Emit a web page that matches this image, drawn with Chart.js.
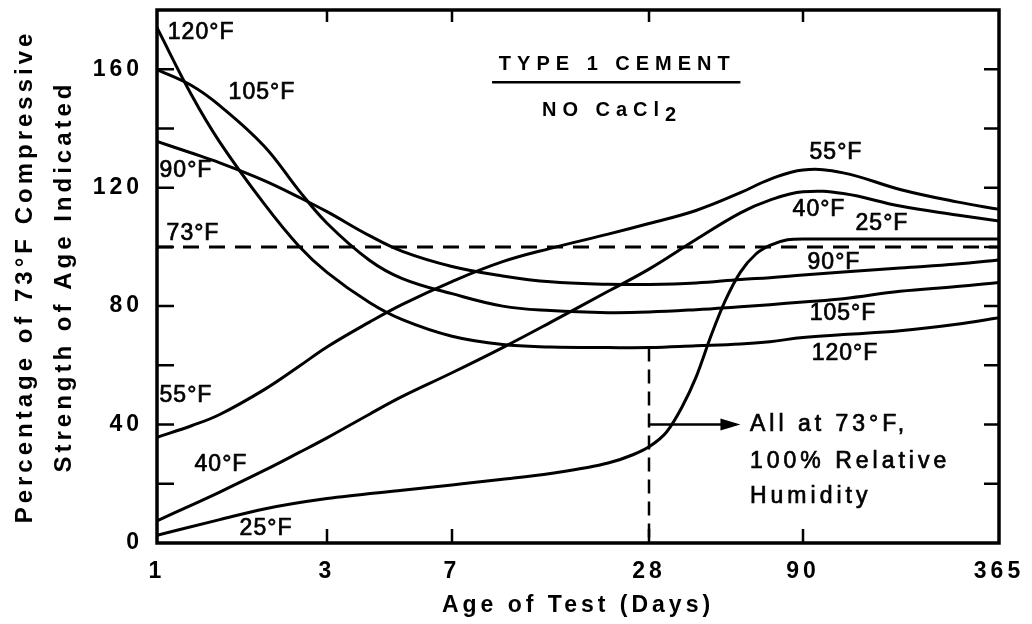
<!DOCTYPE html>
<html>
<head>
<meta charset="utf-8">
<script src="https://cdn.jsdelivr.net/npm/chart.js@4"></script>
<style>
html, body { margin: 0; padding: 0; background: #fff; }
canvas { display: block; }
</style>
</head>
<body>
<canvas id="c" width="1032" height="624"></canvas>
<script>
// ---------- data ----------
const tickDays = [1, 3, 7, 28, 90, 365];
const tickLabels = ['1', '3', '7', '28', '90', '365'];
const yTickValues = [0, 40, 80, 120, 160];

const days = [1, 1.25, 1.5, 2, 2.5, 3, 4, 5, 7, 10, 14, 21, 28, 40, 56, 70, 90, 120, 180, 270, 365];
const pct120F = [174, 151.3, 135.4, 114.5, 100.3, 91.4, 81.2, 75.4, 69.8, 67.0, 66.2, 66.0, 66.0, 66.6, 67.2, 68, 69.4, 70.4, 71.7, 73.9, 76.1];
const pct105F = [159.9, 154.5, 147.7, 134.0, 119.1, 108.0, 95.5, 89.3, 84.2, 80.0, 78.5, 77.8, 78.0, 78.8, 79.8, 80.5, 81.4, 82.5, 85, 86.6, 88];
const pct90F  = [135.6, 131.7, 128.4, 122.4, 116.8, 111.9, 103.8, 98.5, 93.4, 90.2, 88.2, 87.4, 87.3, 87.8, 89.0, 89.6, 90.5, 91.5, 92.9, 94.2, 95.6];
const pct55F  = [35.7, 39.6, 43.4, 51.8, 59.6, 66.2, 74.6, 80.6, 88.3, 95.0, 99.5, 104.3, 107.9, 112.3, 118.3, 122.8, 126.0, 125.0, 119.4, 115.2, 112.7];
const pct40F  = [7.5, 12.8, 17.2, 24.5, 30.5, 35.5, 43.5, 49.5, 57.5, 66, 74.5, 85, 92.5, 102.5, 111.5, 115.8, 118.6, 118.0, 113.8, 110.8, 108.7];
const days25F = [1, 1.5, 2, 3, 5, 7, 10, 14, 21, 25, 28, 32, 36, 40, 45, 50, 56, 63, 70, 80, 90, 180, 365];
const pct25F  = [2.6, 7.9, 11.5, 15, 17.8, 19.6, 21.5, 23.5, 27, 29.8, 32.5, 37.5, 46, 56, 70.5, 82, 91.5, 97.6, 100.5, 102.4, 102.7, 102.7, 102.7];

const ref73Days = [1, 365];
const ref73Pct = [100, 100];
const testDayLine = [28, 28];
const testDayPct = [66, 0];
const arrowDays = [28, 54];
const arrowPct = [40, 40];
const arrowTipDay = 56;

const curveLabels = [
  { text: '120°F', day: 1.33, pct: 172.5 },
  { text: '105°F', day: 1.97, pct: 152.2 },
  { text: '90°F',  day: 1.206, pct: 125.7 },
  { text: '73°F',  day: 1.262, pct: 104.4 },
  { text: '55°F',  day: 1.206, pct: 49.9 },
  { text: '40°F',  day: 1.512, pct: 26.3 },
  { text: '25°F',  day: 2.023, pct: 4.9 },
  { text: '55°F',  day: 113.9, pct: 131.8 },
  { text: '40°F',  day: 100.9, pct: 112.7 },
  { text: '25°F',  day: 158.2, pct: 108 },
  { text: '90°F',  day: 112.3, pct: 94.6 },
  { text: '105°F', day: 119.8, pct: 77.6 },
  { text: '120°F', day: 121.5, pct: 63.9 }
];
const noteLines = ['All at 73°F,', '100% Relative', 'Humidity'];
const noteDay = 60.2;
const notePct = [39.9, 27.4, 15.6];
const titleText = 'TYPE 1 CEMENT';
const subText = 'NO CaCl';
const subScript = '2';
const titleDay = 22.4, titlePct = 161.7, underlinePct = 155.6, underlineDays = [9.28, 56], subDay = 21.6, subPct = 146.1;

// ---------- axis geometry (piecewise-log day axis) ----------
const axisStops = [0, 170, 295, 492, 646, 842];
function dayToU(d) {
  for (let i = 0; i < tickDays.length - 1; i++) {
    if (d <= tickDays[i + 1] || i === tickDays.length - 2) {
      const f = Math.log(d / tickDays[i]) / Math.log(tickDays[i + 1] / tickDays[i]);
      return axisStops[i] + f * (axisStops[i + 1] - axisStops[i]);
    }
  }
}
const pts = (ds, vs) => ds.map((d, i) => ({ x: dayToU(d), y: vs[i] }));

const curve = (data, mono) => ({
  data, borderColor: '#000', borderWidth: 3, pointRadius: 0,
  cubicInterpolationMode: mono ? 'monotone' : 'default', tension: 0.4,
  fill: false, borderJoinStyle: 'round'
});

const FONT = 'Liberation Sans';

const decor = {
  id: 'decor',
  beforeDraw(chart) { chart.ctx.letterSpacing = '4px'; },
  afterDraw(chart) {
    const { ctx, chartArea: a, scales: { x, y } } = chart;
    const px = d => x.getPixelForValue(dayToU(d));
    const py = v => y.getPixelForValue(v);
    ctx.save();
    ctx.strokeStyle = '#000';
    ctx.fillStyle = '#000';
    // inward tick marks
    ctx.lineWidth = 2.5;
    ctx.beginPath();
    for (let v = 20; v < 180; v += 20) {
      const yy = py(v);
      ctx.moveTo(a.left, yy); ctx.lineTo(a.left + 17, yy);
      ctx.moveTo(a.right, yy); ctx.lineTo(a.right - 15, yy);
    }
    tickDays.slice(1, -1).forEach(d => {
      const xx = px(d);
      ctx.moveTo(xx, a.bottom); ctx.lineTo(xx, a.bottom - 14);
      ctx.moveTo(xx, a.top); ctx.lineTo(xx, a.top + 12);
    });
    ctx.stroke();
    // frame
    ctx.lineWidth = 3.5;
    ctx.strokeRect(a.left, a.top, a.right - a.left, a.bottom - a.top);

    // arrow head
    const tx = px(arrowTipDay), ty = py(arrowPct[1]);
    ctx.beginPath();
    ctx.moveTo(tx, ty); ctx.lineTo(tx - 20, ty - 6); ctx.lineTo(tx - 20, ty + 6); ctx.closePath();
    ctx.fill();

    // curve labels
    ctx.letterSpacing = '1px';
    ctx.font = `23px "${FONT}"`;
    ctx.textAlign = 'center';
    ctx.textBaseline = 'middle';
    ctx.lineWidth = 0.7;
    curveLabels.forEach(l => {
      ctx.fillText(l.text, px(l.day), py(l.pct));
      ctx.strokeText(l.text, px(l.day), py(l.pct));
    });

    // note text
    ctx.letterSpacing = '4px';
    ctx.font = `23px "${FONT}"`;
    ctx.textAlign = 'left';
    noteLines.forEach((t, i) => {
      ctx.fillText(t, px(noteDay), py(notePct[i]));
      ctx.strokeText(t, px(noteDay), py(notePct[i]));
    });

    // title
    ctx.letterSpacing = '6px';
    ctx.font = `bold 20px "${FONT}"`;
    ctx.textAlign = 'center';
    ctx.fillText(titleText, px(titleDay), py(titlePct));
    ctx.lineWidth = 2.5;
    ctx.beginPath();
    ctx.moveTo(px(underlineDays[0]), py(underlinePct));
    ctx.lineTo(px(underlineDays[1]), py(underlinePct));
    ctx.stroke();
    ctx.textAlign = 'left';
    const w1 = ctx.measureText(subText).width;
    const w2 = ctx.measureText(subScript).width;
    const x0 = px(subDay) - (w1 + w2) / 2;
    ctx.fillText(subText, x0, py(subPct));
    ctx.fillText(subScript, x0 + w1, py(subPct) + 5);
    ctx.restore();
  }
};

new Chart(document.getElementById('c'), {
  type: 'line',
  data: {
    datasets: [
      curve(pts(days, pct120F)),
      curve(pts(days, pct105F)),
      curve(pts(days, pct90F)),
      curve(pts(days, pct55F)),
      curve(pts(days, pct40F)),
      curve(pts(days25F, pct25F), true),
      { data: pts(ref73Days, ref73Pct), borderColor: '#000', borderWidth: 3, pointRadius: 0, borderDash: [16, 10] },
      { data: pts(testDayLine, testDayPct), borderColor: '#000', borderWidth: 2.5, pointRadius: 0, borderDash: [14, 8] },
      { data: pts(arrowDays, arrowPct), borderColor: '#000', borderWidth: 2.5, pointRadius: 0 }
    ]
  },
  options: {
    responsive: false,
    animation: false,
    devicePixelRatio: 1,
    layout: { padding: { top: 10, right: 33, left: 0, bottom: 0 } },
    plugins: { legend: { display: false }, tooltip: { enabled: false } },
    scales: {
      x: {
        type: 'linear', min: 0, max: axisStops[axisStops.length - 1],
        afterBuildTicks: s => { s.ticks = axisStops.map(v => ({ value: v })); },
        afterFit: s => { s.height = 81; s.paddingLeft = 0; s.paddingRight = 0; },
        grid: { display: false },
        border: { display: false },
        ticks: {
          autoSkip: false, maxRotation: 0, padding: 7, color: '#000',
          font: { family: FONT, size: 23, weight: 'bold' },
          callback: v => tickLabels[axisStops.indexOf(v)]
        },
        title: {
          display: true, text: 'Age of Test (Days)', color: '#000',
          font: { family: FONT, size: 23, weight: 'bold' },
          padding: { top: 0, bottom: 5 }
        }
      },
      y: {
        min: 0, max: 180,
        afterBuildTicks: s => { s.ticks = yTickValues.map(v => ({ value: v })); },
        afterFit: s => { s.width = 157; s.paddingTop = 0; s.paddingBottom = 0; },
        grid: { display: false },
        border: { display: false },
        ticks: {
          padding: 6, color: '#000',
          font: { family: FONT, size: 23, weight: 'bold' }
        },
        title: {
          display: true, text: ['Percentage of 73°F Compressive', 'Strength of Age Indicated'], color: '#000',
          font: { family: FONT, size: 24, weight: 'bold', lineHeight: 1.62 },
          padding: { top: 6, bottom: 0 }
        }
      }
    }
  },
  plugins: [decor]
});
</script>
</body>
</html>
